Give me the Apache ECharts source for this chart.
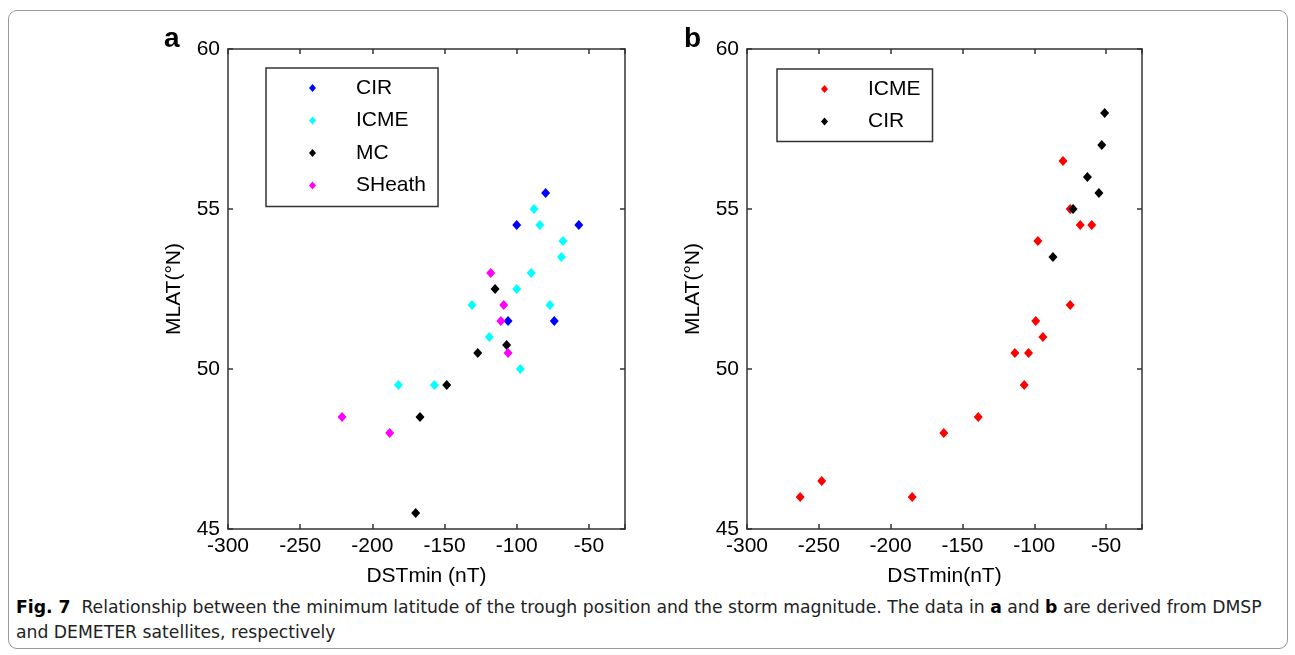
<!DOCTYPE html>
<html>
<head>
<meta charset="utf-8">
<title>Fig. 7 DSTmin vs MLAT</title>
<script src="https://cdn.jsdelivr.net/npm/echarts@6/dist/echarts.min.js"></script>
<style>
  html, body { margin: 0; padding: 0; background: #fff; }
  #frame {
    position: absolute; left: 8px; top: 10px; width: 1278px; height: 637px;
    border: 1px solid #9a9a9a; border-radius: 9px;
  }
  #chart { position: absolute; left: 0; top: 0; width: 1295px; height: 590px; }
  #caption {
    position: absolute; left: 16px; top: 595px; white-space: nowrap;
    font-family: "Liberation Sans Narrow", "DejaVu Sans Condensed", "Noto Sans", sans-serif;
    font-size: 17px; line-height: 25px; color: #222;
    transform-origin: 0 0;
  }
  #caption b { color: #000; }
</style>
</head>
<body>
<div id="frame"></div>
<div id="chart"></div>
<div id="caption">
  <div id="line1"><b>Fig. 7</b>&nbsp; Relationship between the minimum latitude of the trough position and the storm magnitude. The data in <b>a</b> and <b>b</b> are derived from DMSP</div>
  <div>and DEMETER satellites, respectively</div>
</div>
<script>
// panel a (DMSP)
const cirA_dst = [-80, -100, -57, -106, -74]
const cirA_mlat = [55.5, 54.5, 54.5, 51.5, 51.5]
const icmeA_dst = [-88, -84, -68, -69, -90, -100, -131, -77, -119, -97.5, -182, -157]
const icmeA_mlat = [55, 54.5, 54, 53.5, 53, 52.5, 52, 52, 51, 50, 49.5, 49.5]
const mcA_dst = [-115, -107, -127, -148.5, -167, -170]
const mcA_mlat = [52.5, 50.75, 50.5, 49.5, 48.5, 45.5]
const sheathA_dst = [-118, -109, -111, -106, -221, -188]
const sheathA_mlat = [53, 52, 51.5, 50.5, 48.5, 48]

// panel b (DEMETER)
const icmeB_dst = [-80, -75, -68, -60, -97.5, -75, -99, -94, -113.5, -104, -107, -139, -163, -248, -263, -185]
const icmeB_mlat = [56.5, 55, 54.5, 54.5, 54, 52, 51.5, 51, 50.5, 50.5, 49.5, 48.5, 48, 46.5, 46, 46]
const cirB_dst = [-51, -53, -63, -55, -73, -87]
const cirB_mlat = [58, 57, 56, 55.5, 55, 53.5]

const xTicks = [-300, -250, -200, -150, -100, -50]
const yTicks = [45, 50, 55, 60]

const pairs = (xs, ys) => xs.map((x, i) => [x, ys[i]])

const FONT = "'Liberation Sans', Arial, Helvetica, sans-serif"
const AXIS_COLOR = '#333'

// 四边都画框和朝内的刻度
const xAxisPair = (gridIndex, name) => [
  {
    gridIndex, type: 'value', position: 'bottom',
    min: xTicks[0], max: -25, interval: 50,
    name, nameLocation: 'middle', nameGap: 37,
    nameTextStyle: { fontFamily: FONT, fontSize: 21, color: '#000' },
    axisLine: { show: true, lineStyle: { color: AXIS_COLOR, width: 1.5 } },
    axisTick: { show: true, inside: true, length: 5, lineStyle: { color: AXIS_COLOR, width: 1.5 } },
    axisLabel: {
      margin: 7, fontFamily: FONT, fontSize: 21, color: '#000',
      formatter: v => (xTicks.includes(v) ? String(v) : '')
    },
    splitLine: { show: false }
  },
  {
    gridIndex, type: 'value', position: 'top',
    min: xTicks[0], max: -25, interval: 50,
    axisLine: { show: true, lineStyle: { color: AXIS_COLOR, width: 1.5 } },
    axisTick: { show: true, inside: true, length: 5, lineStyle: { color: AXIS_COLOR, width: 1.5 } },
    axisLabel: { show: false },
    splitLine: { show: false }
  }
]

const yAxisPair = (gridIndex) => [
  {
    gridIndex, type: 'value', position: 'left',
    min: yTicks[0], max: yTicks[yTicks.length - 1], interval: 5,
    name: 'MLAT(°N)', nameLocation: 'middle', nameGap: 43,
    nameTextStyle: { fontFamily: FONT, fontSize: 21, color: '#000' },
    axisLine: { show: true, lineStyle: { color: AXIS_COLOR, width: 1.5 } },
    axisTick: { show: true, inside: true, length: 5, lineStyle: { color: AXIS_COLOR, width: 1.5 } },
    axisLabel: { margin: 8, fontFamily: FONT, fontSize: 21, color: '#000' },
    splitLine: { show: false }
  },
  {
    gridIndex, type: 'value', position: 'right',
    min: yTicks[0], max: yTicks[yTicks.length - 1], interval: 5,
    axisLine: { show: true, lineStyle: { color: AXIS_COLOR, width: 1.5 } },
    axisTick: { show: true, inside: true, length: 5, lineStyle: { color: AXIS_COLOR, width: 1.5 } },
    axisLabel: { show: false },
    splitLine: { show: false }
  }
]

const scatter = (name, color, data, xAxisIndex, yAxisIndex) => ({
  name, type: 'scatter', data, xAxisIndex, yAxisIndex,
  symbol: 'diamond', symbolSize: [9, 10],
  itemStyle: { color, opacity: 1 },
  emphasis: { disabled: true },
  animation: false
})

const legendBase = {
  orient: 'vertical',
  icon: 'diamond',
  itemWidth: 7,
  itemHeight: 8,
  itemGap: 10.5,
  borderColor: AXIS_COLOR,
  borderWidth: 1.5,
  backgroundColor: '#fff',
  selectedMode: false,
  textStyle: { fontFamily: FONT, fontSize: 21, color: '#000', lineHeight: 22, padding: [0, 0, 0, 35] }
}

const option = {
  animation: false,
  textStyle: { fontFamily: FONT },
  grid: [
    { left: 228, top: 49, width: 397, height: 480, outerBoundsMode: 'none' },
    { left: 747, top: 49, width: 395, height: 480, outerBoundsMode: 'none' }
  ],
  xAxis: [...xAxisPair(0, 'DSTmin (nT)'), ...xAxisPair(1, 'DSTmin(nT)')],
  yAxis: [...yAxisPair(0), ...yAxisPair(1)],
  legend: [
    {
      ...legendBase,
      left: 266, top: 68,
      padding: [9, 12, 10, 43],
      data: ['CIR', 'ICME', 'MC', 'SHeath']
    },
    {
      ...legendBase,
      left: 777, top: 69,
      padding: [9, 12, 9, 44],
      data: ['b-ICME', 'b-CIR'],
      formatter: name => name.replace('b-', '')
    }
  ],
  graphic: [
    { type: 'text', left: 164, top: 25, style: { text: 'a', font: "bold 28px 'Liberation Sans', Arial, sans-serif", fill: '#000' } },
    { type: 'text', left: 684, top: 25, style: { text: 'b', font: "bold 28px 'Liberation Sans', Arial, sans-serif", fill: '#000' } }
  ],
  series: [
    scatter('CIR', '#0000ff', pairs(cirA_dst, cirA_mlat), 0, 0),
    scatter('ICME', '#00ffff', pairs(icmeA_dst, icmeA_mlat), 0, 0),
    scatter('MC', '#000000', pairs(mcA_dst, mcA_mlat), 0, 0),
    scatter('SHeath', '#ff00ff', pairs(sheathA_dst, sheathA_mlat), 0, 0),
    scatter('b-ICME', '#ff0000', pairs(icmeB_dst, icmeB_mlat), 2, 2),
    scatter('b-CIR', '#000000', pairs(cirB_dst, cirB_mlat), 2, 2)
  ]
}

const chart = echarts.init(document.getElementById('chart'), null, { renderer: 'canvas' })
chart.setOption(option)

// 图注宽度对齐原图
const line1 = document.getElementById('line1')
const w = line1.scrollWidth
if (w > 0) {
  document.getElementById('caption').style.transform = 'scaleX(' + (1246 / w) + ')'
}
</script>
</body>
</html>
